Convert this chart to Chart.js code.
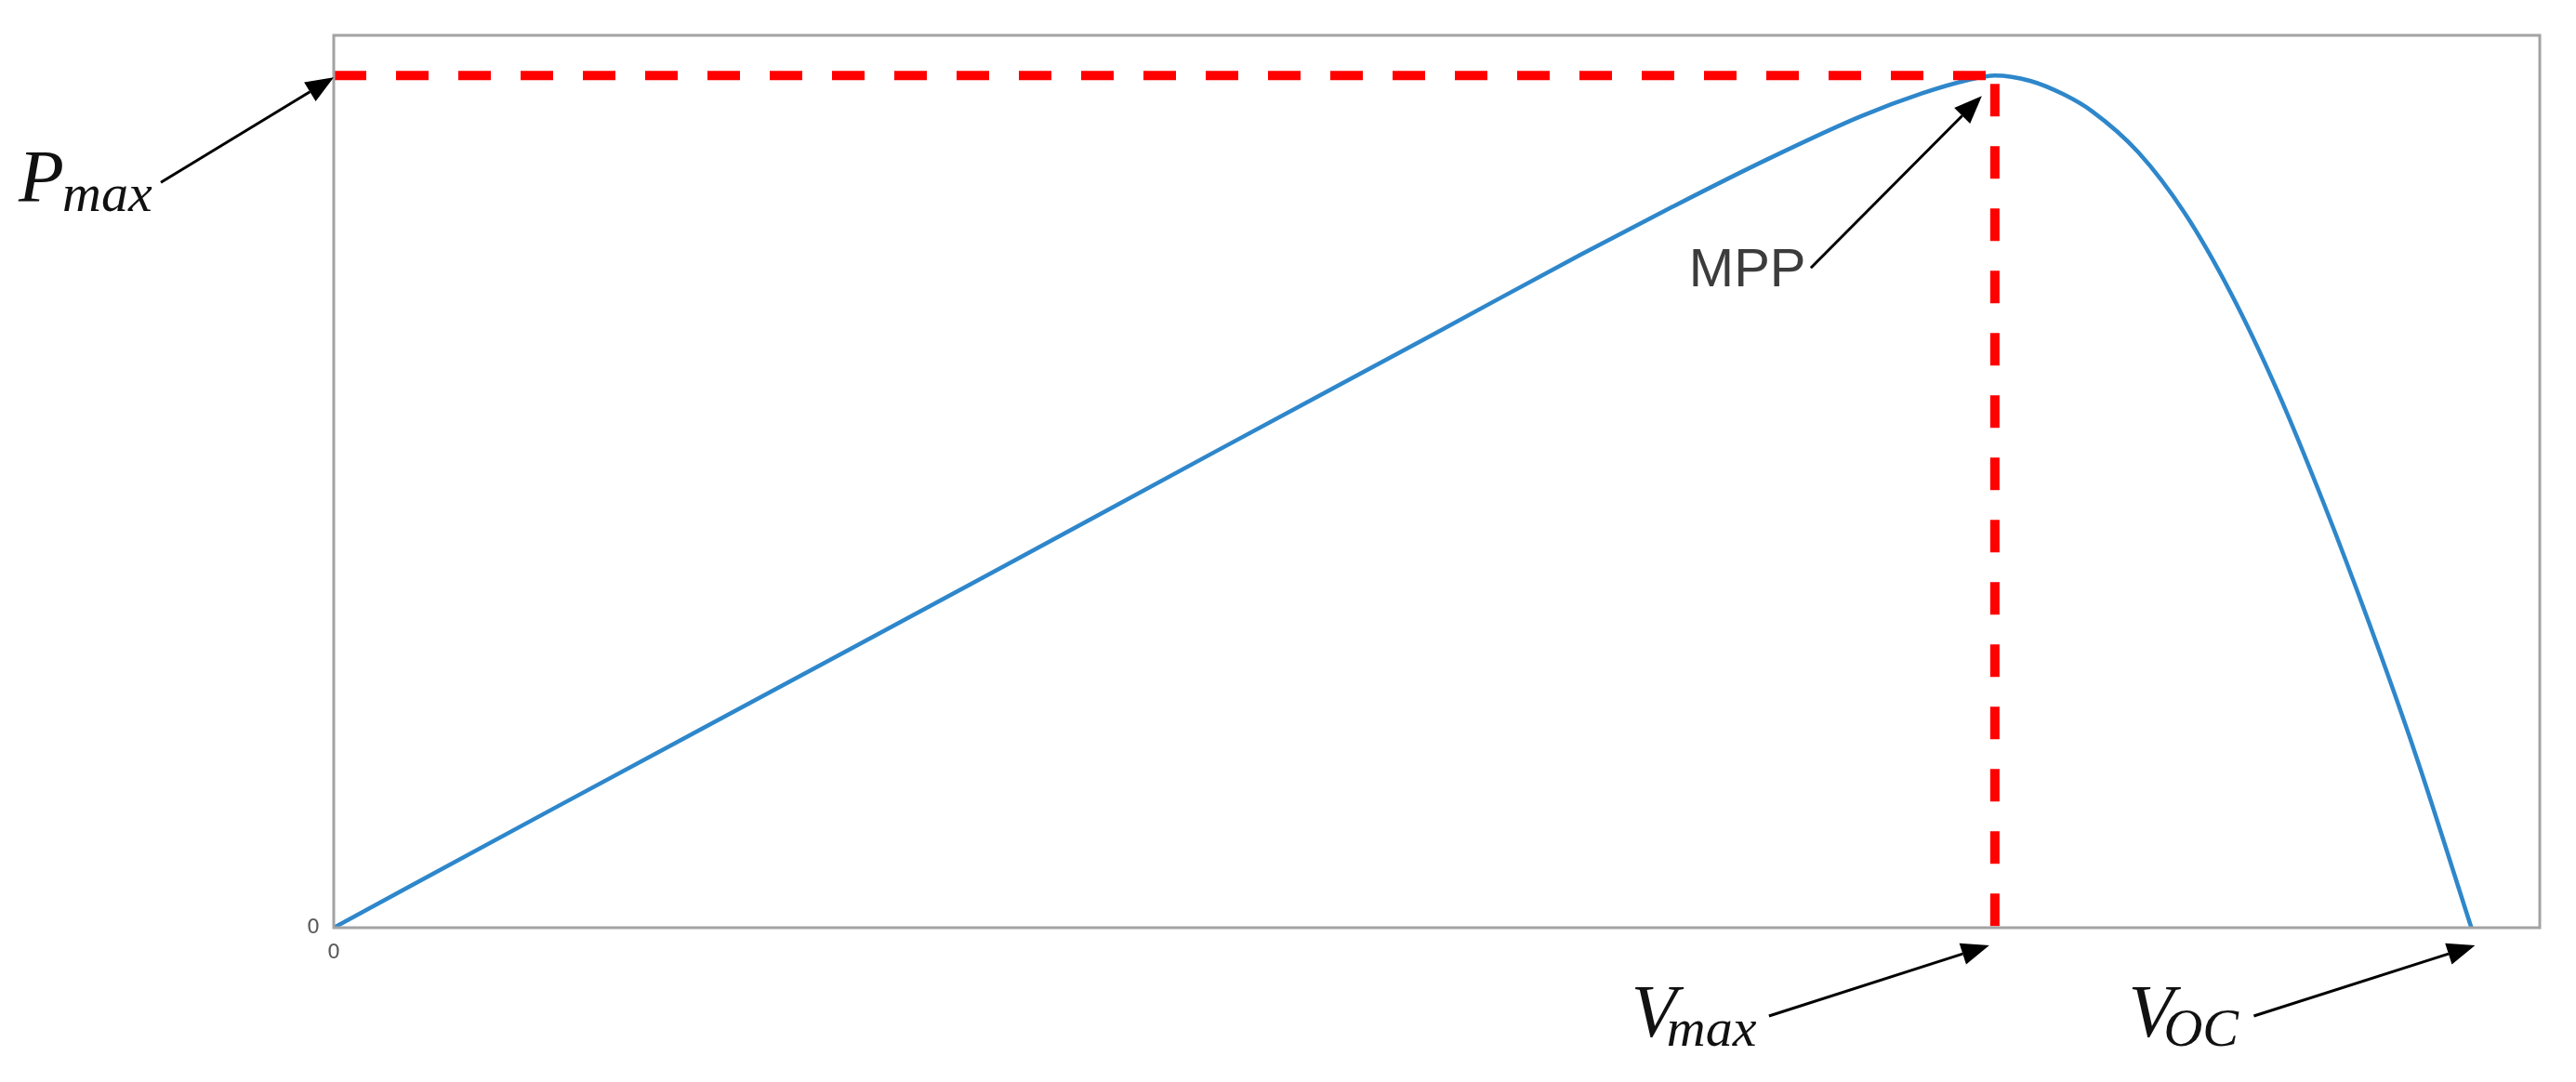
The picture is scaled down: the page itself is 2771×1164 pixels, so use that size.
<!DOCTYPE html>
<html>
<head>
<meta charset="utf-8">
<title>P-V curve</title>
<script src="https://cdn.jsdelivr.net/npm/chart.js@4.4.1/dist/chart.umd.min.js"></script>
<style>
  html, body { margin: 0; padding: 0; background: #fff; }
  #wrap { width: 2771px; height: 1164px; position: relative; }
</style>
</head>
<body>
<div id="wrap"><canvas id="chart"></canvas></div>
<script>
// curve (axes run 0..100 in both directions)
const voltage = [0, 10, 20, 30, 40, 50, 56.5, 60.7, 64.9, 69.2, 72.0, 74.1, 75.3, 76.9, 78.4, 79.7, 81.8, 83.9, 86.0, 88.1, 90.2, 92.3, 94.4, 96.9]
const power = [0, 13.4, 26.7, 40.0, 53.4, 66.7, 75.4, 80.8, 86.0, 90.9, 93.5, 95.0, 95.5, 94.9, 93.4, 91.5, 86.9, 80.1, 71.1, 60.2, 47.6, 33.9, 19.2, 0]
const vMax = 75.3
const pMax = 95.5
const vOc = 96.9
const axisMin = 0
const axisMax = 100
const tickLabels = ["0"]

const curve = voltage.map((v, i) => ({ x: v, y: power[i] }))
const pMaxLine = [{ x: axisMin, y: pMax }, { x: vMax, y: pMax }]
const vMaxLine = [{ x: vMax, y: pMax }, { x: vMax, y: axisMin }]

// annotation layout: pixel offsets from the point each one refers to
const notes = [
  { at: [axisMin, pMax], main: "P", sub: "max", tip: [0, 2], tail: [-186, 115], text: [-339, 136], subDx: 47 },
  { at: [vMax, pMax], plain: "MPP", tip: [-14, 22], tail: [-198, 207], text: [-329, 227] },
  { at: [vMax, axisMin], main: "V", sub: "max", tip: [-6, 19], tail: [-243, 95], text: [-391, 117], subDx: 38 },
  { at: [vOc, axisMin], main: "V", sub: "OC", tip: [4, 19], tail: [-234, 95], text: [-369, 117], subDx: 38 },
]

function drawArrow(ctx, x0, y0, x1, y1) {
  const ang = Math.atan2(y1 - y0, x1 - x0)
  const headLen = 30, headHalf = 12
  const bx = x1 - headLen * Math.cos(ang), by = y1 - headLen * Math.sin(ang)
  ctx.strokeStyle = "#000"
  ctx.lineWidth = 3
  ctx.beginPath()
  ctx.moveTo(x0, y0)
  ctx.lineTo(bx, by)
  ctx.stroke()
  ctx.fillStyle = "#000"
  ctx.beginPath()
  ctx.moveTo(x1, y1)
  ctx.lineTo(bx + headHalf * Math.sin(ang), by - headHalf * Math.cos(ang))
  ctx.lineTo(bx - headHalf * Math.sin(ang), by + headHalf * Math.cos(ang))
  ctx.closePath()
  ctx.fill()
}

const framePlugin = {
  id: "frame",
  afterDatasetsDraw(chart) {
    const { ctx, chartArea: a } = chart
    ctx.save()
    ctx.strokeStyle = "#a3a3a3"
    ctx.lineWidth = 3
    ctx.strokeRect(a.left, a.top, a.right - a.left, a.bottom - a.top)
    ctx.restore()
  },
}

const notesPlugin = {
  id: "notes",
  afterDraw(chart) {
    const { ctx, scales } = chart
    ctx.save()
    notes.forEach((n) => {
      const ax = scales.x.getPixelForValue(n.at[0])
      const ay = scales.y.getPixelForValue(n.at[1])
      drawArrow(ctx, ax + n.tail[0], ay + n.tail[1], ax + n.tip[0], ay + n.tip[1])
      const tx = ax + n.text[0], ty = ay + n.text[1]
      ctx.textAlign = "left"
      ctx.textBaseline = "alphabetic"
      if (n.plain) {
        ctx.fillStyle = "#3c3c3c"
        ctx.font = '58px "Liberation Sans", Arial, sans-serif'
        ctx.fillText(n.plain, tx, ty)
      } else {
        ctx.fillStyle = "#111"
        ctx.font = 'italic 80px "Liberation Serif", serif'
        ctx.fillText(n.main, tx, ty)
        ctx.font = 'italic 58px "Liberation Serif", serif'
        ctx.fillText(n.sub, tx + n.subDx, ty + 10)
      }
    })
    ctx.restore()
  },
}

const fixAxis = (size) => (scale) => {
  if (scale.isHorizontal()) scale.height = size
  else scale.width = size
  scale.paddingTop = 0
  scale.paddingBottom = 0
  scale.paddingLeft = 0
  scale.paddingRight = 0
}

const tickOpts = (pad) => ({
  stepSize: axisMax - axisMin,
  padding: pad,
  color: "#5a5a5a",
  font: { family: "DejaVu Sans", size: 22 },
  maxRotation: 0,
  autoSkip: false,
  callback: (value) => (tickLabels.includes(String(value)) ? String(value) : ""),
})

new Chart(document.getElementById("chart"), {
  type: "line",
  data: {
    datasets: [
      { data: pMaxLine, borderColor: "#ff0000", borderWidth: 10, borderDash: [35, 32], pointRadius: 0, order: 0 },
      { data: vMaxLine, borderColor: "#ff0000", borderWidth: 10, borderDash: [35, 32], borderDashOffset: -9, pointRadius: 0, order: 0 },
      { data: curve, borderColor: "#2e87cb", borderWidth: 4.5, pointRadius: 0, cubicInterpolationMode: "monotone", order: 1 },
    ],
  },
  options: {
    responsive: true,
    maintainAspectRatio: false,
    devicePixelRatio: 1,
    animation: false,
    layout: { padding: { left: 299, right: 39, top: 38, bottom: 106 } },
    plugins: { legend: { display: false }, tooltip: { enabled: false } },
    scales: {
      x: {
        type: "linear",
        min: axisMin,
        max: axisMax,
        grid: { display: false, drawTicks: false },
        border: { display: false },
        ticks: tickOpts(14),
        afterFit: fixAxis(60),
      },
      y: {
        type: "linear",
        min: axisMin,
        max: axisMax,
        grid: { display: false, drawTicks: false },
        border: { display: false },
        ticks: tickOpts(15),
        afterFit: fixAxis(60),
      },
    },
  },
  plugins: [framePlugin, notesPlugin],
})
</script>
</body>
</html>
